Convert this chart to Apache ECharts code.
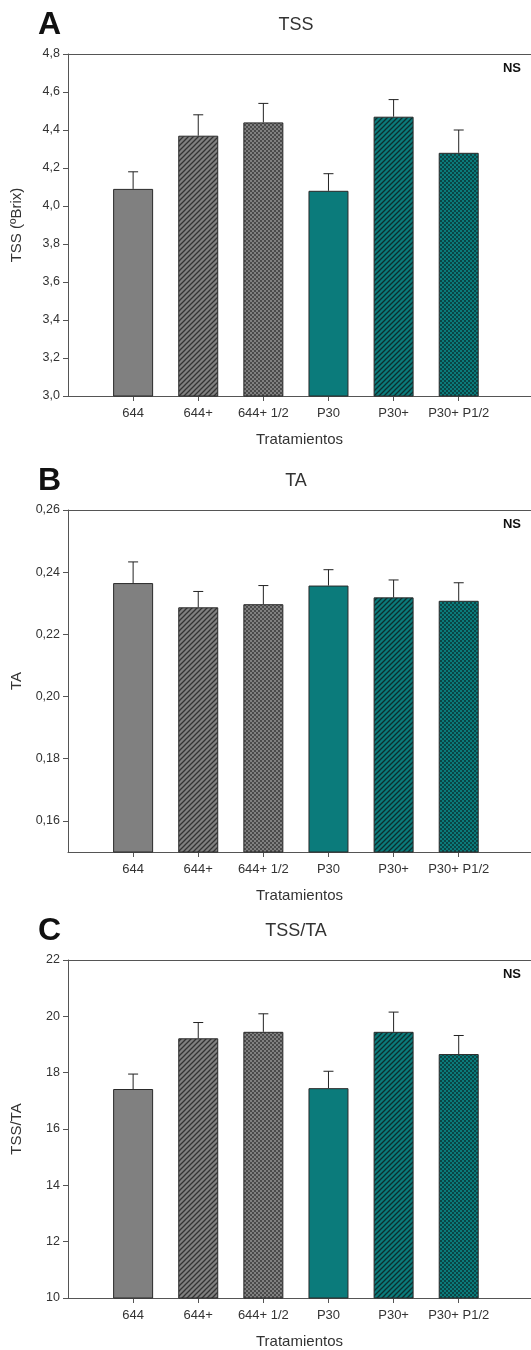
<!DOCTYPE html>
<html>
<head>
<meta charset="utf-8">
<script src="https://cdn.jsdelivr.net/npm/echarts@6/dist/echarts.min.js"></script>
<style>
html,body{margin:0;padding:0;background:#fff;}
#chart{width:531px;height:1350px;}
</style>
</head>
<body>
<div id="chart"></div>
<script>
// ---- data ----
const categories = ['644', '644+', '644+ 1/2', 'P30', 'P30+', 'P30+ P1/2'];
const tssMean = [4.09, 4.37, 4.44, 4.08, 4.47, 4.28];
const tssErr  = [0.09, 0.11, 0.10, 0.09, 0.09, 0.12];
const taMean  = [0.2365, 0.2287, 0.2297, 0.2357, 0.2319, 0.2308];
const taErr   = [0.0068, 0.0051, 0.0060, 0.0051, 0.0056, 0.0058];
const ratioMean = [17.42, 19.22, 19.45, 17.45, 19.45, 18.66];
const ratioErr  = [0.53, 0.56, 0.64, 0.60, 0.70, 0.66];
const tssTicks = [3.0, 3.2, 3.4, 3.6, 3.8, 4.0, 4.2, 4.4, 4.6, 4.8];
const taTicks = [0.16, 0.18, 0.20, 0.22, 0.24, 0.26];
const ratioTicks = [10, 12, 14, 16, 18, 20, 22];

// ---- patterns ----
function makePattern(base, kind, ink) {
  const c = document.createElement('canvas');
  const s = kind === 'hatch' ? 5 : 4;
  c.width = s; c.height = s;
  const g = c.getContext('2d');
  g.fillStyle = base; g.fillRect(0, 0, s, s);
  if (kind === 'hatch') {
    g.strokeStyle = ink; g.lineWidth = 1.3;
    g.beginPath();
    g.moveTo(-1, s + 1); g.lineTo(s + 1, -1);
    g.moveTo(-1, 1); g.lineTo(1, -1);
    g.moveTo(s - 1, s + 1); g.lineTo(s + 1, s - 1);
    g.stroke();
  } else if (kind === 'dots') {
    g.fillStyle = ink;
    g.fillRect(0, 0, 2, 2);
    g.fillRect(2, 2, 2, 2);
  }
  return {image: c, repeat: 'repeat'};
}
const GRAY = '#808080', TEAL = '#0b7b7b';
const barFills = [
  GRAY,
  makePattern(GRAY, 'hatch', '#333333'),
  makePattern(GRAY, 'dots', '#4a4a4a'),
  TEAL,
  makePattern(TEAL, 'hatch', '#0b2f2f'),
  makePattern(TEAL, 'dots', '#0a4545')
];

const chart = echarts.init(document.getElementById('chart'), null, {renderer: 'canvas'});
const FONT = 'Liberation Sans, Arial, sans-serif';
const panels = [
  {top: 54, mean: tssMean, err: tssErr, ticks: tssTicks, min: 3.0, max: 4.8, name: 'TSS (ºBrix)', title: 'TSS', letter: 'A', dec: 1},
  {top: 510, mean: taMean, err: taErr, ticks: taTicks, min: 0.15, max: 0.26, name: 'TA', title: 'TA', letter: 'B', dec: 2},
  {top: 960, mean: ratioMean, err: ratioErr, ticks: ratioTicks, min: 10, max: 22, name: 'TSS/TA', title: 'TSS/TA', letter: 'C', dec: 0}
];
const H = 342, LEFT = 68, W = 463, XMAX = 7.11;

const grid = [], xAxis = [], yAxis = [], series = [], graphic = [];
panels.forEach((p, i) => {
  grid.push({left: LEFT, top: p.top, width: W, height: H});
  xAxis.push({
    type: 'value', gridIndex: i, min: 0, max: XMAX,
    name: 'Tratamientos', nameLocation: 'middle', nameGap: 36,
    nameTextStyle: {fontFamily: FONT, fontSize: 15, color: '#333'},
    axisLine: {show: true, lineStyle: {color: '#555', width: 1}},
    axisTick: {show: true, length: 5, lineStyle: {color: '#555'}, customValues: [1, 2, 3, 4, 5, 6]},
    axisLabel: {fontFamily: FONT, fontSize: 13, color: '#333', margin: 11,
      customValues: [1, 2, 3, 4, 5, 6],
      formatter: v => categories[Math.round(v) - 1] || ''},
    splitLine: {show: false}
  });
  xAxis.push({
    type: 'value', gridIndex: i, position: 'top', min: 0, max: XMAX,
    axisLine: {show: true, onZero: false, lineStyle: {color: '#555', width: 1}},
    axisTick: {show: false}, axisLabel: {show: false}, splitLine: {show: false}
  });
  yAxis.push({
    type: 'value', gridIndex: i, min: p.min, max: p.max,
    name: p.name, nameLocation: 'middle', nameGap: 44, nameRotate: 90,
    nameTextStyle: {fontFamily: FONT, fontSize: 15, color: '#333'},
    axisLine: {show: true, lineStyle: {color: '#555', width: 1}},
    axisTick: {show: true, length: 5, lineStyle: {color: '#555'}, customValues: p.ticks},
    axisLabel: {fontFamily: FONT, fontSize: 12.5, color: '#333', margin: 8, customValues: p.ticks,
      formatter: v => p.dec === 0 ? String(Math.round(v)) : v.toFixed(p.dec).replace('.', ',')},
    splitLine: {show: false}
  });
  series.push({
    type: 'bar', xAxisIndex: 2 * i, yAxisIndex: i, barWidth: 40,
    data: p.mean.map((v, k) => ({value: [k + 1, v], itemStyle: {color: barFills[k]}})),
    itemStyle: {borderColor: '#2a2a2a', borderWidth: 1},
    silent: true, animation: false
  });
  series.push({
    type: 'custom', xAxisIndex: 2 * i, yAxisIndex: i, animation: false, silent: true,
    data: p.mean.map((v, k) => [k + 1, v, v + p.err[k]]),
    renderItem: function (params, api) {
      const x = api.value(0);
      const a = api.coord([x, api.value(1)]);
      const b = api.coord([x, api.value(2)]);
      const hw = 5;
      return {type: 'group', children: [
        {type: 'line', shape: {x1: a[0], y1: a[1], x2: b[0], y2: b[1]}, style: {stroke: '#222', lineWidth: 1}},
        {type: 'line', shape: {x1: b[0] - hw, y1: b[1], x2: b[0] + hw, y2: b[1]}, style: {stroke: '#222', lineWidth: 1}}
      ]};
    },
    z: 3
  });
  const cy = p.top - 29;
  graphic.push({type: 'text', x: 38, y: cy, style: {text: p.letter, font: 'bold 32px ' + FONT, fill: '#111', textVerticalAlign: 'middle'}});
  graphic.push({type: 'text', x: 296, y: cy, style: {text: p.title, font: '18px ' + FONT, fill: '#333', textAlign: 'center', textVerticalAlign: 'middle'}});
  graphic.push({type: 'text', x: 521, y: p.top + 14, style: {text: 'NS', font: 'bold 13px ' + FONT, fill: '#111', textAlign: 'right', textVerticalAlign: 'middle'}});
});

chart.setOption({animation: false, grid, xAxis, yAxis, series, graphic});
</script>
</body>
</html>
